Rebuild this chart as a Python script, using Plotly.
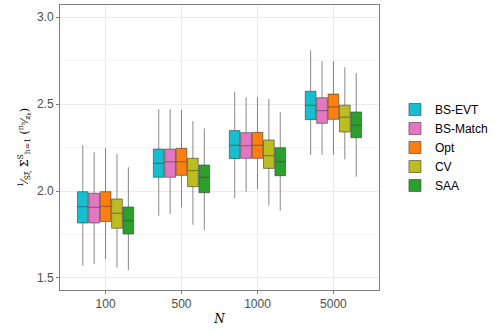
import plotly.graph_objects as go

# %%
sample_sizes = ["100", "500", "1000", "5000"]
methods = ["BS-EVT", "BS-Match", "Opt", "CV", "SAA"]
colors = ["#17BECF", "#E377C2", "#FF7F0E", "#BCBD22", "#2CA02C"]

# box stats, one list per method (over sample sizes)
lower = {
    "BS-EVT":   [1.571, 1.858, 1.958, 2.207],
    "BS-Match": [1.580, 1.868, 1.996, 2.207],
    "Opt":      [1.609, 1.906, 2.010, 2.207],
    "CV":       [1.559, 1.806, 1.916, 2.182],
    "SAA":      [1.544, 1.776, 1.887, 2.082],
}
q1 = {
    "BS-EVT":   [1.816, 2.079, 2.186, 2.410],
    "BS-Match": [1.816, 2.079, 2.188, 2.389],
    "Opt":      [1.824, 2.090, 2.188, 2.412],
    "CV":       [1.786, 2.025, 2.130, 2.339],
    "SAA":      [1.753, 1.990, 2.088, 2.306],
}
median = {
    "BS-EVT":   [1.910, 2.159, 2.263, 2.493],
    "BS-Match": [1.906, 2.168, 2.260, 2.462],
    "Opt":      [1.912, 2.168, 2.263, 2.483],
    "CV":       [1.872, 2.117, 2.203, 2.424],
    "SAA":      [1.830, 2.079, 2.168, 2.378],
}
q3 = {
    "BS-EVT":   [1.996, 2.241, 2.347, 2.573],
    "BS-Match": [1.987, 2.241, 2.335, 2.536],
    "Opt":      [1.996, 2.245, 2.337, 2.557],
    "CV":       [1.954, 2.188, 2.293, 2.493],
    "SAA":      [1.908, 2.149, 2.249, 2.454],
}
upper = {
    "BS-EVT":   [2.264, 2.470, 2.569, 2.809],
    "BS-Match": [2.222, 2.470, 2.538, 2.747],
    "Opt":      [2.247, 2.466, 2.538, 2.747],
    "CV":       [2.213, 2.402, 2.529, 2.711],
    "SAA":      [2.136, 2.360, 2.454, 2.678],
}

# %%
fig = go.Figure()
for m, c in zip(methods, colors):
    fig.add_trace(
        go.Box(
            x=sample_sizes,
            q1=q1[m],
            median=median[m],
            q3=q3[m],
            lowerfence=lower[m],
            upperfence=upper[m],
            name=m,
            fillcolor=c,
            line=dict(color="rgba(60,60,60,0.6)", width=1),
            whiskerwidth=0,
            boxpoints=False,
        )
    )

grid = "#ebebeb"
fig.update_layout(
    width=498,
    height=332,
    margin=dict(l=60, r=104, t=5, b=42),
    paper_bgcolor="white",
    plot_bgcolor="white",
    font=dict(family="Liberation Sans, Arial, sans-serif", size=11, color="#4d4d4d"),
    boxmode="group",
    boxgap=0.25,
    boxgroupgap=0.06,
    legend=dict(
        x=1.05, xanchor="left", y=0.5, yanchor="middle",
        font=dict(size=12, color="black"),
        tracegroupgap=0, itemwidth=30,
    ),
    xaxis=dict(
        type="category",
        range=[-0.6, 3.6],
        showgrid=True, gridcolor=grid, gridwidth=1,
        showline=True, linecolor="#7f7f7f", linewidth=1, mirror=True,
        ticks="outside", ticklen=3, tickcolor="#7f7f7f",
        tickfont=dict(size=12, color="#4d4d4d"),
        title=dict(text="<i>N</i>", font=dict(size=12, color="black", family="DejaVu Serif, serif"), standoff=4),
        zeroline=False,
    ),
    yaxis=dict(
        range=[1.431, 3.069],
        tickvals=[1.5, 2.0, 2.5, 3.0],
        ticktext=["1.5", "2.0", "2.5", "3.0"],
        showgrid=True, gridcolor=grid, gridwidth=1,
        minor=dict(tickvals=[1.75, 2.25, 2.75], showgrid=True, gridcolor="#f4f4f4", ticks=""),
        showline=True, linecolor="#7f7f7f", linewidth=1, mirror=True,
        ticks="outside", ticklen=3, tickcolor="#7f7f7f",
        tickfont=dict(size=12, color="#4d4d4d"),
        title=dict(
            text="<sup>1</sup>⁄<sub>Sξ</sub> Σ<sup>S</sup><sub>h=1</sub> (<sup>π<sub>h</sub></sup>⁄<sub>z<sub>h</sub></sub>)",
            font=dict(size=11, color="black", family="DejaVu Serif, serif"),
            standoff=6,
        ),
        zeroline=False,
    ),
)

# page body has a default 8px margin, drop it so the figure fills the window
fig.write_html(
    "out.html",
    config={"displayModeBar": False},
    post_script="document.body.style.margin='0px';",
)
